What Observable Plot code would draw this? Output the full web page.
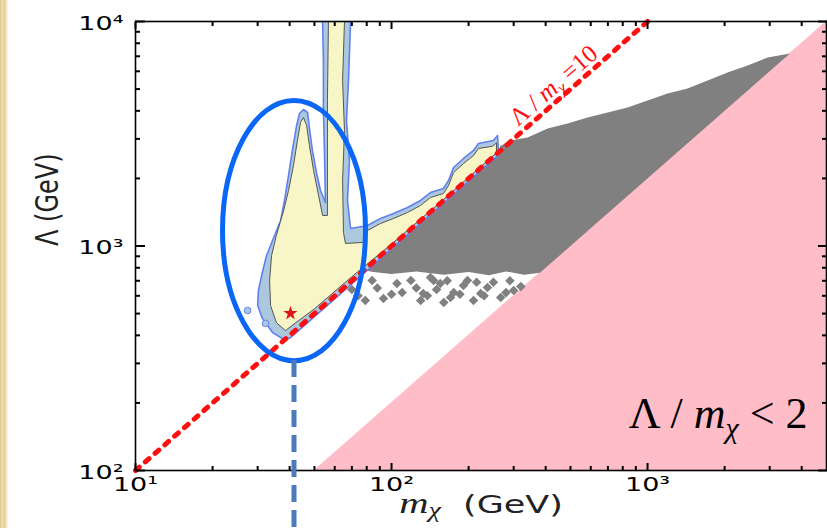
<!DOCTYPE html>
<html>
<head>
<meta charset="utf-8">
<script src="https://cdn.jsdelivr.net/npm/d3@7"></script>
<script src="https://cdn.jsdelivr.net/npm/@observablehq/plot@0.6"></script>
<style>
html, body { margin: 0; padding: 0; }
body {
  width: 827px; height: 528px; overflow: hidden;
  background: linear-gradient(to right, #d9c389 0px, #efe0b0 2px, #e4d09a 4px, #ecdcae 6px, #f6efdc 7px, #ffffff 8px);
}
#chart svg { display: block; }
</style>
</head>
<body>
<div id="chart"></div>
<script>
// ---------- axis ticks ----------
const xMajor = [10, 100, 1000];
const xMinor = [20, 30, 40, 50, 60, 70, 80, 90, 200, 300, 400, 500, 600, 700, 800, 900, 2000, 3000, 4000];
const yMajor = [100, 1000, 10000];
const yMinor = [200, 300, 400, 500, 600, 700, 800, 900, 2000, 3000, 4000, 5000, 6000, 7000, 8000, 9000];
const supDigits = {1: "¹", 2: "²", 3: "³", 4: "⁴"};

// ---------- Λ/mχ = 10 line ----------
const ratio10M = [10, 1000];
const ratio10L = [100, 10000];

// ---------- Λ/mχ < 2 excluded region ----------
const ratio2M = [50, 5000];
const ratio2L = [100, 10000];

// ---------- grey scan region ----------
const grayM = [78, 262, 266, 291.6, 339.9, 406.8, 486.9, 583.1, 698.1, 835.3, 1000, 1197, 1433, 1716, 2053, 2459, 2943, 3600, 380, 330, 280, 240, 200, 160, 125, 100, 85];
const grayL = [780, 2620, 2790, 2951, 3043, 3337, 3513, 3736, 3933, 4140, 4447, 4778, 5029, 5461, 5927, 6368, 6914, 7200, 760, 745, 770, 740, 765, 745, 770, 750, 765];
const speckM = [79, 93, 84, 110, 119, 133, 155, 170, 191, 209, 237, 267, 300, 142, 130, 146, 175, 198, 223, 160, 88, 100, 105, 125, 138, 150, 165, 185, 215, 230, 250, 280, 290, 320, 70, 74];
const speckL = [572, 584, 702, 621, 702, 614, 681, 590, 667, 572, 653, 590, 634, 724, 572, 702, 621, 702, 614, 560, 650, 610, 680, 650, 600, 640, 700, 610, 690, 600, 690, 620, 700, 660, 640, 600];

// ---------- allowed region: outer (2σ) contour ----------
const outerM = [53.8, 54.2, 54.2, 54.7, 55.2, 52.8, 50.9, 49.1, 47.8, 47.0, 45.3, 43.7, 42.6, 41.0, 39.6, 38.2, 36.9, 34.3, 32.5, 31.3, 30.2, 30.0, 31.3, 34.3, 37.5, 40, 60, 100, 150, 200, 262, 259.5, 250.2, 218.7, 209.1, 191.1, 174.7, 167.0, 159.6, 142.0, 129.8, 115.5, 101.8, 90.6, 80.6, 69.2, 67.3, 68.5, 66.7, 67.9, 69.2];
const outerL = [10000, 6699, 4014, 2664, 1563, 1767, 2126, 2664, 3337, 3933, 4055, 3893, 3442, 2664, 2061, 1595, 1299, 1058, 907, 762, 634, 543, 476, 412, 387, 388, 582, 970, 1455, 1940, 2540, 3106, 2951, 2861, 2664, 2454, 2237, 1958, 1804, 1731, 1595, 1485, 1396, 1327, 1234, 1197, 1595, 2404, 3622, 5461, 10000];

// ---------- allowed region: inner (1σ) contour ----------
const innerM = [56.7, 56.2, 56.2, 53.8, 51.9, 49.6, 47.8, 46.6, 45.3, 44.1, 42.9, 41.4, 39.6, 37.9, 35.5, 34.0, 33.4, 33.7, 35.5, 38.5, 50, 70, 100, 150, 200, 257, 257, 248, 218.7, 209.1, 191.1, 174.7, 167, 159.6, 142, 129.8, 115.5, 101.8, 90.6, 80.6, 77.7, 66.1, 64.9, 64.4, 65.5, 64.4, 65.5];
const innerL = [10000, 4447, 1368, 1368, 1679, 2170, 2804, 3442, 3736, 3549, 2951, 2284, 1767, 1440, 1114, 907, 702, 543, 456, 420, 525, 730, 1020, 1515, 2020, 2600, 2880, 2780, 2720, 2530, 2330, 2125, 1860, 1714, 1644, 1515, 1411, 1326, 1260, 1172, 1037, 1027, 1148, 1958, 3269, 5461, 10000];

// small isolated islands
const islandM = [27.4, 32.2];
const islandL = [516, 452];

// best fit point
const bestFitM = [40.3];
const bestFitL = [501];

// highlight ellipse and marker line
const highlightM = [41.6];
const highlightL = [1172];
const markerM = [41.6];
const markerTopL = 309;
const markerBottomL = 55;

// ---------- texts ----------
const xLabelParts = [
  {t: "m", italic: true, family: "Liberation Serif", size: 29},
  {t: "χ", italic: true, family: "Liberation Serif", size: 20, dy: 4},
  {t: "\u00a0\u00a0(GeV)", family: "DejaVu Sans", size: 25, dy: -4}
];
const yLabelText = "Λ (GeV)";
const ratio10Parts = [
  {t: "Λ / "},
  {t: "m", italic: true},
  {t: "χ", italic: true, size: 17, dy: 5},
  {t: " =10", dy: -5}
];
const ratio10Pos = {m: 429, L: 5188};
const ratio2Parts = [
  {t: "Λ / "},
  {t: "m", italic: true},
  {t: "χ", italic: true, size: 30, dy: 10},
  {t: " < 2", dy: -10}
];
const ratio2Pos = {m: 4217, L: 178};

// ---------- build tables ----------
const zip = (ms, ls) => ms.map((m, i) => ({m, L: ls[i]}));
const ratio10 = zip(ratio10M, ratio10L);
const ratio2 = zip(ratio2M, ratio2L);
const gray = zip(grayM, grayL);
const speck = zip(speckM, speckL);
const outer = zip(outerM, outerL);
const inner = zip(innerM, innerL);
const islands = zip(islandM, islandL);
const bestFit = zip(bestFitM, bestFitL);
const highlight = zip(highlightM, highlightL);

// ellipse symbol (rx from r, ry = 1.82 rx)
const ellipseSymbol = {
  draw(ctx, size) {
    const rx = Math.sqrt(size / Math.PI), ry = rx * 1.82, k = 0.5523;
    ctx.moveTo(0, -ry);
    ctx.bezierCurveTo(k * rx, -ry, rx, -k * ry, rx, 0);
    ctx.bezierCurveTo(rx, k * ry, k * rx, ry, 0, ry);
    ctx.bezierCurveTo(-k * rx, ry, -rx, k * ry, -rx, 0);
    ctx.bezierCurveTo(-rx, -k * ry, -k * rx, -ry, 0, -ry);
    ctx.closePath();
  }
};

const fmt = d => "10" + supDigits[Math.round(Math.log10(d))];
const tk = {stroke: "black", strokeWidth: 2, tickFormat: () => "", label: null};

const chart = Plot.plot({
  width: 827,
  height: 528,
  marginLeft: 135,
  marginRight: 1,
  marginTop: 21,
  marginBottom: 58,
  style: {background: "transparent", color: "black", fontFamily: "DejaVu Sans"},
  x: {type: "log", domain: [10, 5000], axis: null},
  y: {type: "log", domain: [100, 10000], axis: null},
  marks: [
    // excluded region Λ/mχ < 2
    Plot.areaY(ratio2, {x: "m", y1: 100, y2: "L", fill: "#ffbdc8"}),
    // grey region
    Plot.line(gray, {x: "m", y: "L", fill: "#808080", stroke: "none"}),
    Plot.dot(speck, {x: "m", y: "L", symbol: "diamond2", r: 4.3, fill: "#808080"}),
    // allowed contours
    Plot.line(outer, {x: "m", y: "L", fill: "#abc8df", stroke: "#6080f0", strokeWidth: 1.6}),
    Plot.line(inner, {x: "m", y: "L", fill: "#f8f6c6", stroke: "#555555", strokeWidth: 1}),
    Plot.dot(islands, {x: "m", y: "L", r: 3.3, fill: "#abc8df", stroke: "#6080f0", strokeWidth: 1}),
    // Λ/mχ = 10 line
    Plot.line(ratio10, {x: "m", y: "L", stroke: "#ff1010", strokeWidth: 5, strokeDasharray: "5,8"}),
    // best fit
    Plot.dot(bestFit, {x: "m", y: "L", symbol: "star", r: 4.5, fill: "#e01515", stroke: "none"}),
    // annotations
    Plot.text(["ratio10"], {x: () => ratio10Pos.m, y: () => ratio10Pos.L, text: () => "Λ / mχ =10", rotate: -41, fontSize: 25, fontFamily: "Liberation Serif", fill: "#ff1010", ariaLabel: () => "ratio10-label"}),
    Plot.text(["ratio2"], {x: () => ratio2Pos.m, y: () => ratio2Pos.L, text: () => "Λ / mχ < 2", textAnchor: "end", fontSize: 44, fontFamily: "Liberation Serif", fill: "black", ariaLabel: () => "ratio2-label"}),
    // frame
    Plot.frame({stroke: "black", strokeWidth: 1.6}),
    // inward ticks
    Plot.axisX({ticks: xMinor, anchor: "bottom", tickSize: 4, dy: -4, ...tk}),
    Plot.axisX({ticks: xMajor, anchor: "bottom", tickSize: 7, dy: -7, ...tk}),
    Plot.axisX({ticks: xMinor, anchor: "top", tickSize: 4, dy: 4, ...tk}),
    Plot.axisX({ticks: xMajor, anchor: "top", tickSize: 7, dy: 7, ...tk}),
    Plot.axisY({ticks: yMinor, anchor: "left", tickSize: 5, dx: 5, ...tk}),
    Plot.axisY({ticks: yMajor, anchor: "left", tickSize: 10, dx: 10, ...tk}),
    Plot.axisY({ticks: yMinor, anchor: "right", tickSize: 5, dx: -5, ...tk}),
    Plot.axisY({ticks: yMajor, anchor: "right", tickSize: 9, dx: -9, ...tk}),
    // tick labels
    Plot.axisX({ticks: xMajor, anchor: "bottom", tickSize: 0, tickPadding: 6, tickFormat: fmt, fontSize: 20, fontFamily: "DejaVu Sans", label: null}),
    Plot.axisY({ticks: yMajor, anchor: "left", tickSize: 0, tickPadding: 12, dy: 2, tickFormat: fmt, fontSize: 20, fontFamily: "DejaVu Sans", label: null}),
    // axis titles
    Plot.text([yLabelText], {frameAnchor: "left", dx: -88, rotate: -90, fontSize: 24, fontFamily: "DejaVu Sans", fill: "#222", ariaLabel: () => "y-title"}),
    Plot.text(["xlabel"], {frameAnchor: "bottom", dy: 42, text: () => "mχ (GeV)", fontSize: 25, fill: "#222", ariaLabel: () => "x-title"}),
    // highlight ellipse + dashed marker
    Plot.dot(highlight, {x: "m", y: "L", r: 71.5, symbol: ellipseSymbol, fill: "none", stroke: "#0a66f5", strokeWidth: 5}),
    Plot.ruleX(markerM, {y1: markerTopL, y2: markerBottomL, stroke: "#4a7cbc", strokeWidth: 5, strokeDasharray: "17,8"})
  ]
});
document.getElementById("chart").appendChild(chart);

// ---------- post-processing: rich text and stretched labels ----------
const NS = "http://www.w3.org/2000/svg";
function findText(label) {
  return chart.querySelector(`text[aria-label="${label}"]`) || chart.querySelector(`[aria-label="${label}"] text`);
}
function findByContent(str) {
  return Array.from(chart.querySelectorAll("text")).find(t => t.textContent === str) || null;
}
function richText(el, parts) {
  if (!el) return null;
  el.textContent = "";
  for (const p of parts) {
    const s = document.createElementNS(NS, "tspan");
    s.textContent = p.t;
    if (p.italic) s.setAttribute("font-style", "italic");
    if (p.size) s.setAttribute("font-size", p.size);
    if (p.family) s.setAttribute("font-family", p.family);
    if (p.dy) s.setAttribute("dy", p.dy);
    el.appendChild(s);
  }
  return el;
}
function stretch(el, sx, sy) {
  if (!el) return;
  const tr = el.getAttribute("transform") || "";
  const x = parseFloat(el.getAttribute("x")) || 0;
  el.setAttribute("transform", `${tr} translate(${x},0) scale(${sx},${sy}) translate(${-x},0)`);
}
const t10 = findText("ratio10-label") || findByContent("Λ / mχ =10");
const t2 = findText("ratio2-label") || findByContent("Λ / mχ < 2");
const tx = findText("x-title") || findByContent("mχ (GeV)");
const ty = findText("y-title") || findByContent(yLabelText);
richText(t10, ratio10Parts);
richText(t2, ratio2Parts);
richText(tx, xLabelParts);
stretch(tx, 1.4, 1);
chart.querySelectorAll('g[aria-label="x-axis tick label"] text, g[aria-label="y-axis tick label"] text').forEach(el => stretch(el, 1.35, 1));
stretch(ty, 1, 1.3);
</script>
</body>
</html>
